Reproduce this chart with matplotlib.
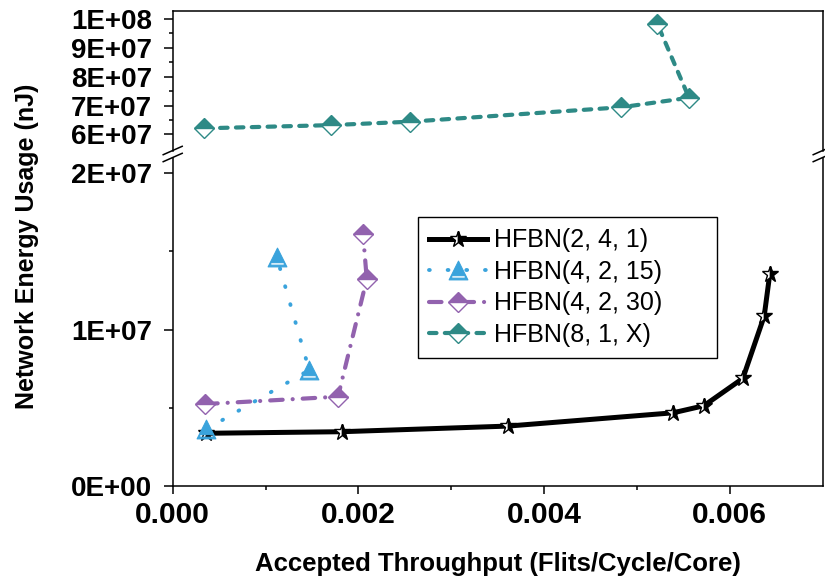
import matplotlib
matplotlib.use('Agg')
import matplotlib.pyplot as plt
from matplotlib.ticker import FixedLocator
from matplotlib.lines import Line2D
from matplotlib.path import Path
from matplotlib.markers import MarkerStyle
from matplotlib import font_manager as fm

# ---------------- data ----------------
series_names = ['HFBN(2, 4, 1)', 'HFBN(4, 2, 15)', 'HFBN(4, 2, 30)', 'HFBN(8, 1, X)']

x_241 = [0.00036, 0.00182, 0.00361, 0.00539, 0.00572, 0.00614, 0.00637, 0.00643]
y_241 = [3.37e6, 3.47e6, 3.83e6, 4.68e6, 5.13e6, 6.88e6, 1.086e7, 1.355e7]

x_4215 = [0.00036, 0.00147, 0.00112]
y_4215 = [3.62e6, 7.41e6, 1.465e7]

x_4230 = [0.00035, 0.00178, 0.00209, 0.00205]
y_4230 = [5.24e6, 5.71e6, 1.323e7, 1.608e7]

x_81X = [0.00034, 0.00170, 0.00256, 0.00483, 0.00556, 0.00522]
y_81X = [6.21e7, 6.32e7, 6.44e7, 6.94e7, 7.27e7, 9.83e7]

x_ticks = [0.000, 0.002, 0.004, 0.006]
x_minor = [0.001, 0.003, 0.005]
y_top_ticks = [6e7, 7e7, 8e7, 9e7, 1e8]
y_top_minor = [6.5e7, 7.5e7, 8.5e7, 9.5e7]
y_bot_ticks = [0, 1e7, 2e7]
y_bot_minor = [5e6, 1.5e7]

c_black = '#000000'
c_blue = '#3AA3DC'
c_purple = '#9262AE'
c_teal = '#2E8A86'

plt.rcParams['font.family'] = ['Liberation Sans', 'DejaVu Sans']

try:
    fm.findfont(fm.FontProperties(family='Liberation Sans Narrow', weight='bold'),
                fallback_to_default=False)
    xt_family, xt_size = 'Liberation Sans Narrow', 26
except Exception:
    xt_family, xt_size = 'Liberation Sans', 21.5

W, H = 825, 584
fig = plt.figure(figsize=(8.25, 5.84), dpi=100)


def fx(px):
    return px / W


def fy(py):
    return 1 - py / H


L, R = 172.7, 822.7
TOP_T, TOP_B = 11.0, 150.5
BOT_T, BOT_B = 157.5, 486.0
ax_top = fig.add_axes([fx(L), fy(TOP_B), (R - L) / W, (TOP_B - TOP_T) / H])
ax_bot = fig.add_axes([fx(L), fy(BOT_B), (R - L) / W, (BOT_B - BOT_T) / H])

for ax in (ax_top, ax_bot):
    ax.set_xlim(0, 0.007)
    for s in ax.spines.values():
        s.set_linewidth(1.1)
        s.set_color('black')
ax_top.spines['bottom'].set_visible(False)
ax_bot.spines['top'].set_visible(False)
ax_top.set_ylim(5.44e7, 1.028e8)
ax_bot.set_ylim(0, 2.1e7)

# ---------------- series ----------------
ms_star, ms_tri, ms_dia = 12, 13.5, 9.8

# triangle with a white band near its base (hole of opposite winding)
tri_band = Path([(0, 1), (-1, -1), (1, -1), (0, 1),
                 (-0.72, -0.55), (0.72, -0.55), (0.72, -0.82), (-0.72, -0.82), (-0.72, -0.55)],
                [Path.MOVETO, Path.LINETO, Path.LINETO, Path.CLOSEPOLY,
                 Path.MOVETO, Path.LINETO, Path.LINETO, Path.LINETO, Path.CLOSEPOLY])

l1, = ax_bot.plot(x_241, y_241, color=c_black, lw=3.6, solid_joinstyle='round',
                  marker='*', ms=ms_star, fillstyle='left', mfc='white',
                  mfcalt='black', mec='black', mew=1.0, zorder=3)

l2, = ax_bot.plot(x_4215, y_4215, color=c_blue, lw=2.8, dashes=[0.2, 4.6],
                  dash_capstyle='round', marker=MarkerStyle(tri_band), ms=ms_tri,
                  mfc=c_blue, mec=c_blue, mew=0.8, zorder=4)

l3, = ax_bot.plot(x_4230, y_4230, color=c_purple, lw=3.0, dashes=[3.0, 2.4, 0.01, 2.4],
                  dash_capstyle='round', marker='D', ms=ms_dia, fillstyle='top',
                  mfc=c_purple, mfcalt='white', mec=c_purple, mew=1.0, zorder=5)

l4, = ax_top.plot(x_81X, y_81X, color=c_teal, lw=3.0, dashes=[1.8, 2.0],
                  dash_capstyle='round', marker='D', ms=ms_dia, fillstyle='top',
                  mfc=c_teal, mfcalt='white', mec=c_teal, mew=1.0, zorder=5)

# ---------------- ticks ----------------
ax_top.tick_params(axis='x', which='both', bottom=False, top=False, labelbottom=False)
ax_bot.set_xticks(x_ticks, labels=[f'{v:.3f}' for v in x_ticks],
                  fontsize=xt_size, fontweight='bold', fontfamily=xt_family)
ax_bot.xaxis.set_minor_locator(FixedLocator(x_minor))

ax_top.set_yticks(y_top_ticks, labels=[f'{v:.0E}' for v in y_top_ticks],
                  fontsize=20, fontweight='bold')
ax_top.yaxis.set_minor_locator(FixedLocator(y_top_minor))
ax_bot.set_yticks(y_bot_ticks, labels=[f'{v:.0E}' for v in y_bot_ticks],
                  fontsize=20, fontweight='bold')
ax_bot.yaxis.set_minor_locator(FixedLocator(y_bot_minor))

for ax in (ax_top, ax_bot):
    ax.tick_params(axis='y', which='major', direction='out', length=6.7, width=1.1, pad=8)
    ax.tick_params(axis='y', which='minor', direction='out', length=3.2, width=1.1)
    ax.tick_params(axis='y', which='both', right=False)
ax_bot.tick_params(axis='x', which='major', direction='out', length=6.0, width=1.1, pad=5)
ax_bot.tick_params(axis='x', which='minor', direction='out', length=3.2, width=1.1)

# ---------------- axis break marks ----------------
for x0 in (L, R):
    for yc in (TOP_B, BOT_T):
        fig.add_artist(Line2D([fx(x0 - 9.5), fx(x0 + 9.5)], [fy(yc + 4.2), fy(yc - 4.2)],
                              transform=fig.transFigure, color='black', lw=1.1, clip_on=False))

# ---------------- labels ----------------
fig.text(fx(27), fy(246), 'Network Energy Usage (nJ)', rotation=90, ha='center', va='center',
         fontsize=18, fontweight='bold')
fig.text(fx(498), fy(564), 'Accepted Throughput (Flits/Cycle/Core)', ha='center', va='center',
         fontsize=18.5, fontweight='bold')

# ---------------- legend ----------------
leg = ax_bot.legend([l1, l2, l3, l4], series_names,
                    loc='upper left', mode='expand',
                    bbox_to_anchor=(fx(418), fy(358), (717 - 418) / W, (358 - 217) / H),
                    bbox_transform=fig.transFigure, borderaxespad=0,
                    fontsize=18, frameon=True, fancybox=False, edgecolor='black',
                    framealpha=1, borderpad=0.45, labelspacing=0.3,
                    handlelength=2.3, handletextpad=0.28, numpoints=1)
leg.get_frame().set_linewidth(1.0)
leg.set_zorder(10)

fig.savefig('out.png', dpi=100)
